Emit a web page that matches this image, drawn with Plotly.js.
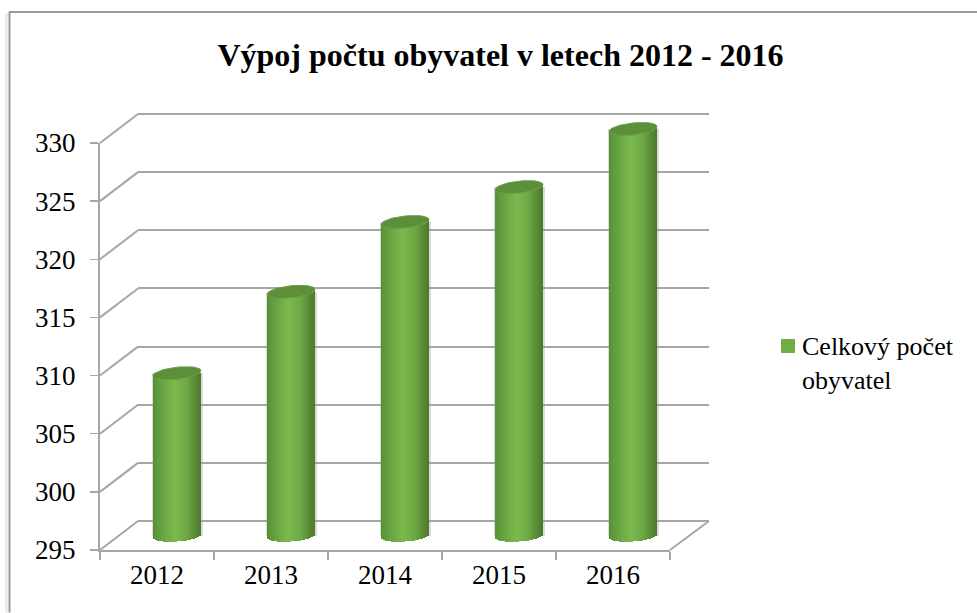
<!DOCTYPE html>
<html><head><meta charset="utf-8">
<script src="https://cdn.plot.ly/plotly-3.0.1.min.js"></script>
<style>html,body{margin:0;padding:0;background:#fff}#c{width:977px;height:613px}</style>
</head><body><div id="c"></div>
<script>
const chartTitle = 'Výpoj počtu obyvatel v letech 2012 - 2016';
const seriesName = 'Celkový počet<br>obyvatel';
const years = [2012, 2013, 2014, 2015, 2016];
const categories = ['2012', '2013', '2014', '2015', '2016'];
const population = [309, 316, 322, 325, 330];
const valueTicks = [295, 300, 305, 310, 315, 320, 325, 330];

const W = 977, H = 613;
const L = 100, R = 709, T = 108, B = 550.5;
const pw = R - L, ph = B - T;
const px = x => (x - L) / pw;
const py = y => (B - y) / ph;
const unit = 407.5 / 35;           // px per value unit
const yPx = (v, y0) => y0 - (v - 295) * unit;

// three planes of the pseudo-3D box: back wall, cylinders, front axes
const frontY0 = 550.5, midY0 = 536.5, backY0 = 521.5;
const midLo = 294, midHi = 331.5;
const backLo = 294.5, backHi = 330.5;
const axisGray = '#a6a6a6';
const serif = '"Liberation Serif", serif';

// cylinder shading
const stops = [[0,[86,143,54]],[0.12,[98,158,62]],[0.45,[123,186,78]],[0.7,[108,168,68]],[0.9,[84,134,52]],[1,[76,120,46]]];
function shade(t){
  for(let i=1;i<stops.length;i++){ if(t<=stops[i][0]){
    const a=stops[i-1],b=stops[i],f=(t-a[0])/(b[0]-a[0]);
    return 'rgb('+a[1].map((c,k)=>Math.round(c+(b[1][k]-c)*f)).join(',')+')';
  }}
  return 'rgb(76,120,46)';
}
const barPx = 48, slotPx = 114, strips = 24;
const bw = barPx / slotPx, dw = bw / strips;
const capB = 6, capTilt = 2.5, baseB = 5.5, baseTilt = 1.6;

const traces = [];
// soft halo behind the cylinders
traces.push({
  type: 'bar', xaxis: 'x2', yaxis: 'y2', x: years, y: population.map(v => v - 295), base: years.map(() => 295),
  width: (barPx + 3) / slotPx, marker: {color: 'rgba(150,150,150,0.35)', line: {width: 0}},
  showlegend: false, hoverinfo: 'skip'
});
for (let i = 0; i < strips; i++) {
  const u = -1 + (2 * i + 1) / strips;
  const lowerCap = (capB * Math.sqrt(1 - u * u) - capTilt * u) / unit;
  const lowerBase = (baseB * Math.sqrt(1 - u * u) - baseTilt * u) / unit;
  const base = years.map(() => 295 - lowerBase);
  traces.push({
    type: 'bar', xaxis: 'x2', yaxis: 'y2', x: years,
    y: population.map((v, k) => v - lowerCap - base[k]),
    base: base, width: dw * 1.04, offset: -bw / 2 + i * dw,
    marker: {color: shade((i + 0.5) / strips), line: {width: 0}},
    showlegend: false, hoverinfo: 'skip'
  });
}
// top caps
const capSteps = Array.from({length: 49}, (_, i) => i / 48 * 2 * Math.PI);
years.forEach((yr, k) => {
  traces.push({
    type: 'scatter', mode: 'lines', xaxis: 'x2', yaxis: 'y2',
    x: capSteps.map(t => yr + bw / 2 * Math.cos(t)),
    y: capSteps.map(t => population[k] + (capTilt * Math.cos(t) + capB * Math.sin(t)) / unit),
    fill: 'toself', fillcolor: '#5c8f3a', line: {color: '#6a9c46', width: 1},
    showlegend: false, hoverinfo: 'skip'
  });
});
// back wall axis carrier and front axis carrier / legend entry
traces.unshift({type: 'scatter', mode: 'markers', xaxis: 'x', yaxis: 'y', x: [years[0]], y: [295], marker: {opacity: 0}, showlegend: false, hoverinfo: 'skip'});
traces.push({
  type: 'scatter', mode: 'markers', xaxis: 'x3', yaxis: 'y3', x: categories, y: categories.map(() => null),
  name: seriesName, marker: {symbol: 'square', size: 14, color: '#70ad47'}, showlegend: true, hoverinfo: 'skip'
});

const shapes = [];
const line = (x0, y0, x1, y1, color, width) => shapes.push({type: 'line', xref: 'paper', yref: 'paper', layer: 'below',
  x0: px(x0), y0: py(y0), x1: px(x1), y1: py(y1), line: {color, width}});
valueTicks.forEach(v => line(100, yPx(v, frontY0), 138, yPx(v, backY0), axisGray, 2));
line(670, frontY0, 709, backY0, axisGray, 2);
line(6.5, 13, 6.5, 613, '#ececec', 3);
line(9.5, 12, 9.5, 613, '#9a9a9a', 2);
line(9, 12, 977, 12, '#9a9a9a', 2);

const layout = {
  width: W, height: H, autosize: false, showlegend: true,
  paper_bgcolor: '#fff', plot_bgcolor: 'rgba(0,0,0,0)',
  margin: {l: L, r: W - R, t: T, b: H - B, pad: 0, autoexpand: false},
  font: {family: serif, color: '#000', size: 26},
  title: {text: '<b>' + chartTitle + '</b>', font: {family: serif, size: 32, color: '#000'},
    xref: 'paper', x: px(500.5), xanchor: 'center', yref: 'container', y: 1 - 55 / H, yanchor: 'middle'},
  bargap: 0, barmode: 'overlay',
  // back wall
  xaxis: {domain: [px(138), 1], anchor: 'y', range: [2011.5, 2016.5], visible: false, fixedrange: true},
  yaxis: {domain: [py(yPx(backLo, backY0)), py(yPx(backHi, backY0))], anchor: 'x', range: [backLo, backHi], tickvals: valueTicks, showgrid: true,
    gridcolor: axisGray, gridwidth: 2, showline: false, zeroline: false, showticklabels: false, ticks: '', fixedrange: true},
  // cylinders
  xaxis2: {domain: [px(120), px(690)], anchor: 'y2', range: [2011.5, 2016.5], visible: false, fixedrange: true},
  yaxis2: {domain: [py(yPx(midLo, midY0)), py(yPx(midHi, midY0))], anchor: 'x2', range: [midLo, midHi], visible: false, fixedrange: true},
  // front axes
  xaxis3: {domain: [0, px(670)], anchor: 'y3', type: 'category', categoryorder: 'array', categoryarray: categories,
    range: [-0.5, 4.5], tickson: 'boundaries', ticks: 'outside', ticklen: 8, tickwidth: 1.5, tickcolor: axisGray,
    showline: true, linecolor: axisGray, linewidth: 2, showgrid: false, zeroline: false,
    tickfont: {size: 27, family: serif, color: '#000'}, fixedrange: true},
  yaxis3: {domain: [0, py(yPx(330, frontY0))], anchor: 'x3', range: [295, 330], tickvals: valueTicks,
    ticks: 'outside', ticklen: 8, tickwidth: 1.5, tickcolor: axisGray, showline: true, linecolor: axisGray, linewidth: 2,
    showgrid: false, zeroline: false, tickfont: {size: 27, family: serif, color: '#000'}, ticklabelstandoff: 9, fixedrange: true},
  shapes: shapes,
  legend: {x: px(762), y: py(322), xanchor: 'left', yanchor: 'top', bgcolor: 'rgba(0,0,0,0)', borderwidth: 0,
    font: {size: 26, family: serif, color: '#000'}, itemwidth: 30, traceorder: 'normal'}
};
Plotly.newPlot('c', traces, layout, {displayModeBar: false, staticPlot: true}).then(gd => {
  // the reference's legend swatch sits beside the first text line, close to the text
  const sym = gd.querySelector('.legend .legendsymbols');
  if (sym) sym.setAttribute('transform', 'translate(6,-16)');
});
</script></body></html>
